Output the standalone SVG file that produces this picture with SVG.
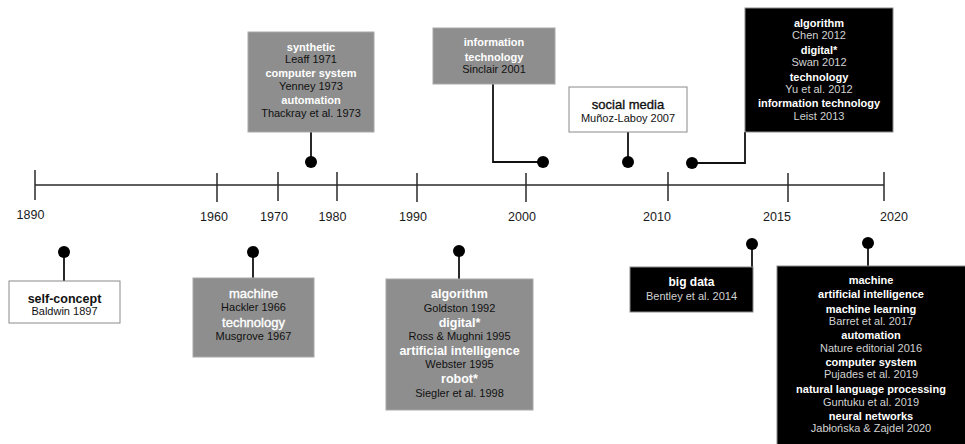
<svg xmlns="http://www.w3.org/2000/svg" width="965" height="444" viewBox="0 0 965 444">
<style>
text{font-family:"Liberation Sans",Arial,Helvetica,sans-serif;text-anchor:middle;font-size:11px}
.yr{font-size:12.5px;fill:#1a1a1a}
.h{font-weight:bold}
.med{font-size:13px;stroke-width:0.35}
.wh{fill:#fff}
.med.wh{stroke:#fff}
.med.bk{stroke:#111}
.bk{fill:#111}
.lg{fill:#d2d2d2}
.boxw{fill:#fff;stroke:#8a8a8a;stroke-width:1}
.boxg{fill:#8e8e8e;stroke:#a8a8a8;stroke-width:1}
.boxb{fill:#000;stroke:#8a8a8a;stroke-width:1}
.ln{fill:none;stroke:#111;stroke-width:1.8}
.ax{fill:none;stroke:#2a2a2a;stroke-width:1.5}
.dot{fill:#000}
</style>
<rect width="965" height="444" fill="#fff"/>
<g id="axis">
<path class="ax" d="M35,185H884M35,170V200M217,173V202M278,172V201M337,172V201M417,173V202M526,173V202M668,172V201M788,173V202M884,172V201"/>
<text class="yr" x="30.5" y="218.5">1890</text>
<text class="yr" x="214" y="221">1960</text>
<text class="yr" x="274" y="220.5">1970</text>
<text class="yr" x="332.5" y="220.5">1980</text>
<text class="yr" x="413" y="221">1990</text>
<text class="yr" x="522" y="221">2000</text>
<text class="yr" x="657" y="220.5">2010</text>
<text class="yr" x="777" y="221">2015</text>
<text class="yr" x="894" y="221">2020</text>
</g>
<g id="connectors">
<path class="ln" d="M311,132V162"/>
<path class="ln" d="M493,84V162H543"/>
<path class="ln" d="M628,132V162"/>
<path class="ln" d="M692,163H745V132"/>
<path class="ln" d="M64,252V281"/>
<path class="ln" d="M253,252V278"/>
<path class="ln" d="M459,251V279"/>
<path class="ln" d="M752,244V267"/>
<path class="ln" d="M868,243V266"/>
<circle class="dot" cx="311" cy="162" r="6"/>
<circle class="dot" cx="543" cy="162" r="6"/>
<circle class="dot" cx="628" cy="162" r="6"/>
<circle class="dot" cx="692" cy="163" r="6"/>
<circle class="dot" cx="64" cy="252" r="6"/>
<circle class="dot" cx="253" cy="252" r="6"/>
<circle class="dot" cx="459" cy="251" r="6"/>
<circle class="dot" cx="752" cy="244" r="6"/>
<circle class="dot" cx="868" cy="243" r="6"/>
</g>
<g id="n1970s">
<rect class="boxg" x="248" y="32" width="126" height="100"/>
<text class="h wh" x="311" y="51">synthetic</text>
<text class="bk" x="311" y="63">Leaff 1971</text>
<text class="h wh" x="311" y="77">computer system</text>
<text class="bk" x="311" y="90">Yenney 1973</text>
<text class="h wh" x="311" y="104">automation</text>
<text class="bk" x="311" y="117">Thackray et al. 1973</text>
</g>
<g id="n2001">
<rect class="boxg" x="433" y="28" width="122" height="56"/>
<text class="h wh" x="494" y="46">information</text>
<text class="h wh" x="494" y="61">technology</text>
<text class="bk" x="494" y="73">Sinclair 2001</text>
</g>
<g id="n2007">
<rect class="boxw" x="569" y="87" width="118" height="45"/>
<text class="med bk" x="628" y="109">social media</text>
<text class="bk" x="628" y="122">Muñoz-Laboy 2007</text>
</g>
<g id="n2012">
<rect class="boxb" x="745" y="8" width="148" height="124"/>
<text class="h wh" x="819" y="27">algorithm</text>
<text class="lg" x="819" y="39">Chen 2012</text>
<text class="h wh" x="819" y="54">digital*</text>
<text class="lg" x="819" y="66">Swan 2012</text>
<text class="h wh" x="819" y="81">technology</text>
<text class="lg" x="819" y="93">Yu et al. 2012</text>
<text class="h wh" x="819" y="107">information technology</text>
<text class="lg" x="819" y="120">Leist 2013</text>
</g>
<g id="n1897">
<rect class="boxw" x="9" y="281" width="111" height="42"/>
<text class="h bk" x="64.5" y="302.5" style="font-size:12.5px">self-concept</text>
<text class="bk" x="64.5" y="315">Baldwin 1897</text>
</g>
<g id="n1960s">
<rect class="boxg" x="193" y="278" width="121" height="79"/>
<text class="med wh" x="253.5" y="297.5">machine</text>
<text class="bk" x="253.5" y="311">Hackler 1966</text>
<text class="med wh" x="253.5" y="326.5">technology</text>
<text class="bk" x="253.5" y="340">Musgrove 1967</text>
</g>
<g id="n1990s">
<rect class="boxg" x="386" y="279" width="147" height="131"/>
<text class="h wh" x="459.5" y="297.5" style="font-size:12.5px">algorithm</text>
<text class="bk" x="459.5" y="312">Goldston 1992</text>
<text class="h wh" x="459.5" y="326.5" style="font-size:12.5px">digital*</text>
<text class="bk" x="459.5" y="340">Ross &amp; Mughni 1995</text>
<text class="h wh" x="459.5" y="354.5" style="font-size:12.5px">artificial intelligence</text>
<text class="bk" x="459.5" y="368">Webster 1995</text>
<text class="h wh" x="459.5" y="382.5" style="font-size:12.5px">robot*</text>
<text class="bk" x="459.5" y="397">Siegler et al. 1998</text>
</g>
<g id="n2014">
<rect class="boxb" x="630" y="267" width="123" height="45"/>
<text class="h wh" x="691.5" y="286" style="font-size:12px">big data</text>
<text class="lg" x="691.5" y="300">Bentley et al. 2014</text>
</g>
<g id="n2016">
<rect class="boxb" x="777" y="266" width="190" height="180"/>
<text class="h wh" x="871" y="284">machine</text>
<text class="h wh" x="871" y="298">artificial intelligence</text>
<text class="h wh" x="871" y="313">machine learning</text>
<text class="lg" x="871" y="325">Barret et al. 2017</text>
<text class="h wh" x="871" y="339">automation</text>
<text class="lg" x="871" y="352">Nature editorial 2016</text>
<text class="h wh" x="871" y="366">computer system</text>
<text class="lg" x="871" y="378">Pujades et al. 2019</text>
<text class="h wh" x="871" y="393">natural language processing</text>
<text class="lg" x="871" y="406">Guntuku et al. 2019</text>
<text class="h wh" x="871" y="420">neural networks</text>
<text class="lg" x="871" y="432">Jabłońska &amp; Zajdel 2020</text>
</g>
</svg>
